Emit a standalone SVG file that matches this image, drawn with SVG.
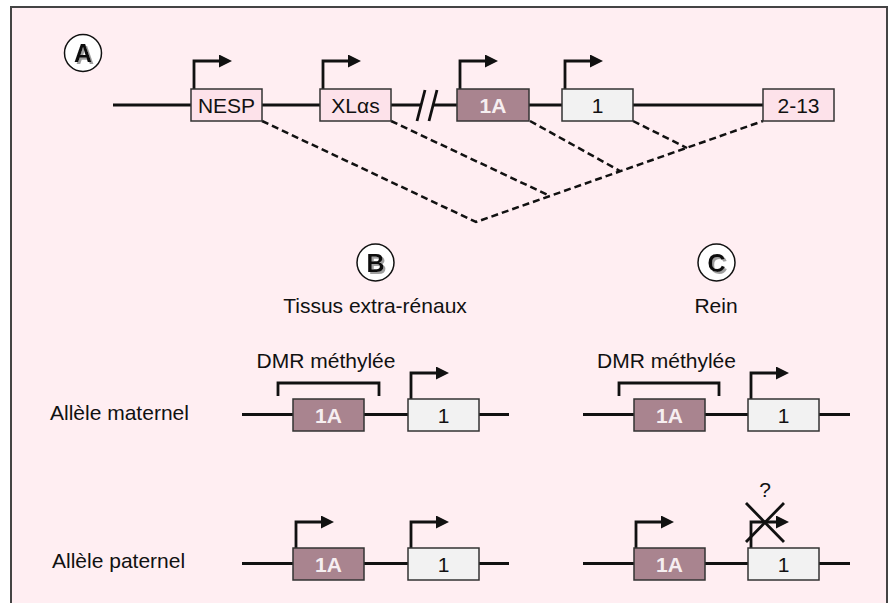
<svg xmlns="http://www.w3.org/2000/svg" width="890" height="603" viewBox="0 0 890 603">
  <defs>
    <style>
      text { font-family: "Liberation Sans", Arial, sans-serif; font-size: 21px; fill: #111; }
      .ctr { text-anchor: middle; }
      .dna { stroke: #111; stroke-width: 2.8; fill: none; }
      .exon { stroke: #333; stroke-width: 1.5; }
      .pink { fill: #FDE2EA; }
      .mauve { fill: #A9848F; }
      .grey { fill: #F2F2F2; }
      .lbl1A { font-weight: bold; fill: #F6EEF0; }
      .tss { stroke: #111; stroke-width: 2.8; fill: none; marker-end: url(#head); }
      .splice { stroke: #111; stroke-width: 2.5; fill: none; stroke-dasharray: 7 4; }
      .badge { fill: #fff; stroke: #111; stroke-width: 1.5; }
      .letter { font-size: 25px; font-weight: bold; text-anchor: middle; filter: url(#dropShadow); }
    </style>
    <marker id="head" markerUnits="userSpaceOnUse" markerWidth="13" markerHeight="13" refX="3" refY="6.5" orient="auto">
      <path d="M0,0 L13,6.5 L0,13 z" fill="#111"/>
    </marker>
    <!-- grey offset copy behind the badge letters -->
    <filter id="dropShadow" x="-30%" y="-30%" width="160%" height="160%">
      <feOffset in="SourceAlpha" dx="2" dy="2" result="off"/>
      <feFlood flood-color="#A0A0A0"/>
      <feComposite in2="off" operator="in" result="shade"/>
      <feMerge>
        <feMergeNode in="shade"/>
        <feMergeNode in="SourceGraphic"/>
      </feMerge>
    </filter>
  </defs>

  <!-- frame -->
  <rect x="11" y="7" width="876" height="620" fill="#FFEEF2" stroke="#444" stroke-width="2"/>

  <!-- panel A: locus -->
  <g id="badge-A">
    <circle class="badge" cx="83" cy="53" r="18.5"/>
    <text class="letter" x="83" y="62">A</text>
  </g>

  <g id="locus-line">
    <path class="dna" d="M113,105 H191 M262,105 H320 M391,105 H421 M433,105 H457 M529,105 H562 M633,105 H763"/>
    <path class="dna" d="M417,121 L425,90 M429,121 L437,90" stroke-width="2.5"/>
  </g>

  <g id="connectors">
    <path class="splice" d="M262,121 L476,222 L763,121"/>
    <path class="splice" d="M391,121 L550,196"/>
    <path class="splice" d="M530,121 L620,171"/>
    <path class="splice" d="M633,121 L687,148"/>
  </g>

  <g id="exon-NESP">
    <path class="tss" d="M194,89 V61 H222"/>
    <rect class="exon pink" x="191" y="89" width="71" height="32"/>
    <text class="ctr" x="226.5" y="112.5">NESP</text>
  </g>
  <g id="exon-XL">
    <path class="tss" d="M323,89 V61 H351"/>
    <rect class="exon pink" x="320" y="89" width="71" height="32"/>
    <text class="ctr" x="355.5" y="112.5">XLαs</text>
  </g>
  <g id="exon-1A">
    <path class="tss" d="M460,89 V61 H488"/>
    <rect class="exon mauve" x="457" y="89" width="72" height="32"/>
    <text class="ctr lbl1A" x="493" y="112.5">1A</text>
  </g>
  <g id="exon-1">
    <path class="tss" d="M565,89 V61 H593"/>
    <rect class="exon grey" x="562" y="89" width="71" height="32"/>
    <text class="ctr" x="597.5" y="112.5">1</text>
  </g>
  <g id="exon-2-13">
    <rect class="exon pink" x="763" y="89" width="71" height="32"/>
    <text class="ctr" x="798.5" y="112.5">2-13</text>
  </g>

  <!-- row labels -->
  <g id="row-labels">
    <text x="50" y="420">Allèle maternel</text>
    <text x="52" y="568">Allèle paternel</text>
  </g>

  <!-- panel B: extra-renal tissues -->
  <g id="badge-B">
    <circle class="badge" cx="375.5" cy="262.5" r="18.5"/>
    <text class="letter" x="375.5" y="271.5">B</text>
    <text class="ctr" x="375" y="313">Tissus extra-rénaux</text>
  </g>

  <g id="B-maternal">
    <path class="dna" d="M242,414.5 H293 M364,414.5 H408 M479,414.5 H509"/>
    <path class="dna" d="M278,396 V383 H379 V396" stroke-width="2.5"/>
    <text class="ctr" x="326" y="368">DMR méthylée</text>
    <rect class="exon mauve" x="293" y="399" width="71" height="32"/>
    <text class="ctr lbl1A" x="328.5" y="422.5">1A</text>
    <path class="tss" d="M411,399 V373 H439"/>
    <rect class="exon grey" x="408" y="399" width="71" height="32"/>
    <text class="ctr" x="443.5" y="422.5">1</text>
  </g>

  <g id="B-paternal">
    <path class="dna" d="M242,563.5 H293 M364,563.5 H408 M479,563.5 H509"/>
    <path class="tss" d="M296,548 V522 H324"/>
    <rect class="exon mauve" x="293" y="548" width="71" height="32"/>
    <text class="ctr lbl1A" x="328.5" y="571.5">1A</text>
    <path class="tss" d="M411,548 V522 H439"/>
    <rect class="exon grey" x="408" y="548" width="71" height="32"/>
    <text class="ctr" x="443.5" y="571.5">1</text>
  </g>

  <!-- panel C: kidney -->
  <g id="badge-C">
    <circle class="badge" cx="716.5" cy="262.5" r="18.5"/>
    <text class="letter" x="716.5" y="271.5">C</text>
    <text class="ctr" x="716" y="313">Rein</text>
  </g>

  <g id="C-maternal">
    <path class="dna" d="M583,414.5 H634 M705,414.5 H748 M819,414.5 H850"/>
    <path class="dna" d="M619,396 V383 H719 V396" stroke-width="2.5"/>
    <text class="ctr" x="666.5" y="368">DMR méthylée</text>
    <rect class="exon mauve" x="634" y="399" width="71" height="32"/>
    <text class="ctr lbl1A" x="669.5" y="422.5">1A</text>
    <path class="tss" d="M751,399 V373 H779"/>
    <rect class="exon grey" x="748" y="399" width="71" height="32"/>
    <text class="ctr" x="783.5" y="422.5">1</text>
  </g>

  <g id="C-paternal">
    <path class="dna" d="M583,563.5 H634 M705,563.5 H748 M819,563.5 H850"/>
    <path class="tss" d="M636,548 V522 H664"/>
    <rect class="exon mauve" x="634" y="548" width="71" height="32"/>
    <text class="ctr lbl1A" x="669.5" y="571.5">1A</text>
    <path class="tss" d="M751,548 V522 H779"/>
    <path class="dna" d="M746,503 L784,542 M784,503 L746,542" stroke-width="2.5"/>
    <text class="ctr" x="765" y="497">?</text>
    <rect class="exon grey" x="748" y="548" width="71" height="32"/>
    <text class="ctr" x="783.5" y="571.5">1</text>
  </g>
</svg>
